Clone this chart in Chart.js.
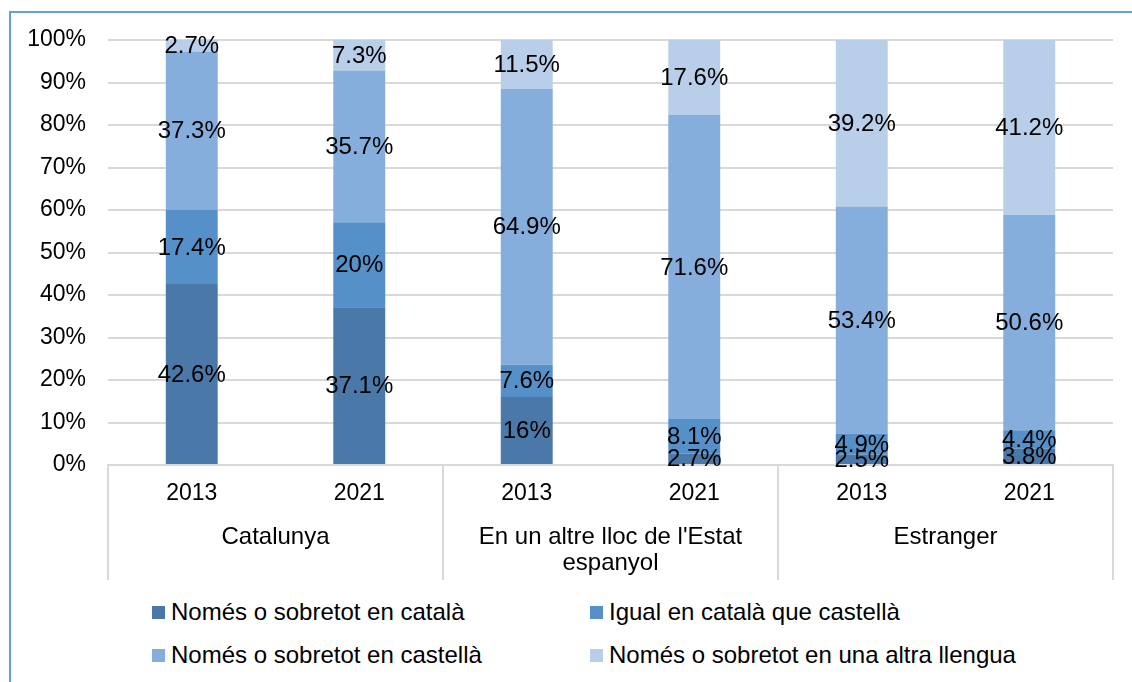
<!DOCTYPE html>
<html>
<head>
<meta charset="utf-8">
<script src="https://cdn.jsdelivr.net/npm/chart.js@4/dist/chart.umd.min.js"></script>
<style>
  html, body { margin: 0; padding: 0; background: #fff; }
  body { width: 1132px; height: 682px; position: relative; overflow: hidden; font-family: "Liberation Sans", Arial, sans-serif; }
  #frame { position: absolute; left: 9px; top: 11px; right: 0; bottom: 0; border-left: 2px solid #6b9fd3; border-top: 2px solid #6b9fd3; }
  #wrap { position: absolute; left: 0; top: 0; width: 1132px; height: 590px; }
  #legend { position: absolute; left: 152px; top: 598px; display: grid; grid-template-columns: 438px 440px; row-gap: 15px; font-size: 24px; color: #000; }
  #legend .item { display: flex; align-items: center; height: 28px; white-space: nowrap; }
  #legend .box { width: 13px; height: 13px; margin-right: 6px; }
</style>
</head>
<body>
<div id="frame"></div>
<div id="wrap"><canvas id="chart"></canvas></div>
<div id="legend"></div>
<script>
// Categories
const years = ["2013", "2021", "2013", "2021", "2013", "2021"];
const groups = ["Catalunya", ["En un altre lloc de l'Estat", "espanyol"], "Estranger"];

// Series (percent of each bar)
const seriesNames = [
  "Només o sobretot en català",
  "Igual en català que castellà",
  "Només o sobretot en castellà",
  "Només o sobretot en una altra llengua"
];
const onlyCatalan = [42.6, 37.1, 16, 2.7, 2.5, 3.8];
const sameBoth = [17.4, 20, 7.6, 8.1, 4.9, 4.4];
const onlySpanish = [37.3, 35.7, 64.9, 71.6, 53.4, 50.6];
const otherLang = [2.7, 7.3, 11.5, 17.6, 39.2, 41.2];
const colors = ["#4a78a8", "#5590c8", "#86aedc", "#b9cee9"];

const yTicks = [0, 10, 20, 30, 40, 50, 60, 70, 80, 90, 100];

const fontFamily = "'Liberation Sans', Arial, sans-serif";

// Write the value in the middle of each segment
const segmentLabels = {
  id: "segmentLabels",
  afterDatasetsDraw(chart) {
    const ctx = chart.ctx;
    ctx.save();
    ctx.font = "24px " + fontFamily;
    ctx.fillStyle = "#000";
    ctx.textAlign = "center";
    ctx.textBaseline = "middle";
    chart.data.datasets.forEach((ds, i) => {
      chart.getDatasetMeta(i).data.forEach((bar, j) => {
        const { x, y, base } = bar.getProps(["x", "y", "base"], true);
        ctx.fillText(ds.data[j] + "%", x, (y + base) / 2 + 1);
      });
    });
    ctx.restore();
  }
};

// Vertical separators between the category groups
const groupLines = {
  id: "groupLines",
  afterDraw(chart) {
    const x = chart.scales.x;
    const g = chart.scales.group;
    const ctx = chart.ctx;
    ctx.save();
    ctx.strokeStyle = "#d9d9d9";
    ctx.lineWidth = 2;
    [-0.5, 1.5, 3.5, 5.5].forEach(v => {
      const px = Math.round(x.getPixelForValue(v));
      ctx.beginPath();
      ctx.moveTo(px, chart.chartArea.bottom);
      ctx.lineTo(px, g.bottom - 10);
      ctx.stroke();
    });
    ctx.restore();
  }
};

const seriesData = [onlyCatalan, sameBoth, onlySpanish, otherLang];

new Chart(document.getElementById("chart"), {
  type: "bar",
  data: {
    labels: years,
    datasets: seriesNames.map((name, i) => ({
      label: name,
      data: seriesData[i],
      backgroundColor: colors[i],
      borderWidth: 0,
      categoryPercentage: 1,
      barPercentage: 0.31
    }))
  },
  options: {
    responsive: true,
    maintainAspectRatio: false,
    animation: false,
    layout: { padding: { left: 22, right: 19, top: 40, bottom: 0 } },
    plugins: {
      legend: { display: false },
      tooltip: { enabled: false }
    },
    scales: {
      x: {
        stacked: true,
        grid: { display: false, drawTicks: false },
        border: { display: true, color: "#d9d9d9", width: 2 },
        ticks: {
          color: "#000",
          padding: 15,
          font: { size: 23, family: fontFamily }
        },
        afterFit: s => { s.height = 43; }
      },
      group: {
        type: "category",
        position: "bottom",
        labels: groups,
        offset: true,
        grid: { display: false, drawTicks: false },
        border: { display: false },
        ticks: {
          color: "#000",
          padding: 16,
          maxRotation: 0,
          autoSkip: false,
          font: { size: 24, lineHeight: 1.1, family: fontFamily }
        },
        afterFit: s => { s.height = 82; }
      },
      y: {
        stacked: true,
        min: 0,
        max: 100,
        afterBuildTicks: s => { s.ticks = yTicks.map(v => ({ value: v })); },
        grid: { color: "#d9d9d9", lineWidth: 2, drawTicks: false },
        border: { display: false },
        ticks: {
          color: "#000",
          padding: 22,
          callback: v => v + "%",
          font: { size: 23, family: fontFamily }
        },
        afterFit: s => { s.width = 86; }
      }
    }
  },
  plugins: [segmentLabels, groupLines]
});

// Legend in two columns, as in the original
const legend = document.getElementById("legend");
seriesNames.forEach((name, i) => {
  const item = document.createElement("div");
  item.className = "item";
  item.innerHTML = '<span class="box" style="background:' + colors[i] + '"></span><span>' + name + '</span>';
  legend.appendChild(item);
});
</script>
</body>
</html>
